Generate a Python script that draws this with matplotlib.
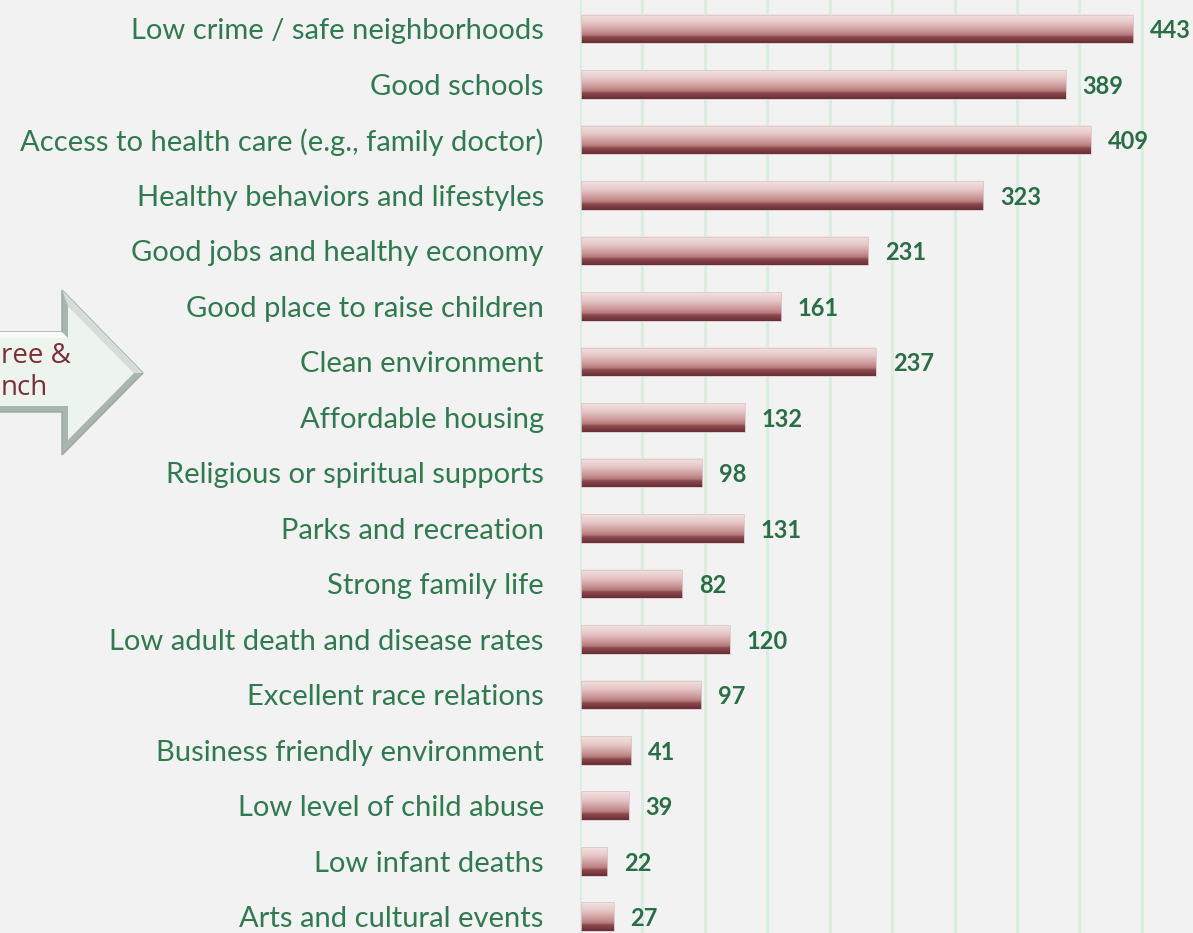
import numpy as np
import matplotlib
matplotlib.use("Agg")
import matplotlib.pyplot as plt
from matplotlib.colors import LinearSegmentedColormap
from matplotlib.patches import Polygon

categories = [
    "Low crime / safe neighborhoods",
    "Good schools",
    "Access to health care (e.g., family doctor)",
    "Healthy behaviors and lifestyles",
    "Good jobs and healthy economy",
    "Good place to raise children",
    "Clean environment",
    "Affordable housing",
    "Religious or spiritual supports",
    "Parks and recreation",
    "Strong family life",
    "Low adult death and disease rates",
    "Excellent race relations",
    "Business friendly environment",
    "Low level of child abuse",
    "Low infant deaths",
    "Arts and cultural events",
]
values = [443, 389, 409, 323, 231, 161, 237, 132, 98, 131, 82, 120, 97, 41, 39, 22, 27]
arrow_text = ["ree &", "nch"]

W, H = 1193, 933
BG = "#f2f2f2"
LABEL_C = "#2f7a4e"
NUM_C = "#2a6e45"

fig = plt.figure(figsize=(W / 100, H / 100), dpi=100, facecolor=BG)
ax = fig.add_axes([580 / W, 0, 1 - 580 / W, 1])
ax.set_facecolor(BG)

n = len(categories)
ypos = np.arange(n)
ax.set_xlim(0, 491)
ax.set_ylim(16.29, -0.523)

for gx in np.arange(0, 500, 50):
    ax.axvline(gx, color="#d8eedf", lw=2.2, zorder=0)

cmap = LinearSegmentedColormap.from_list(
    "bar",
    [(0.0, "#f3e3e3"), (0.3, "#e6c6c6"), (0.6, "#c99393"), (0.72, "#b57a7b"),
     (0.8, "#8a4a4f"), (0.9, "#7a3a40"), (1.0, "#6a2f35")])
grad = np.linspace(0, 1, 64).reshape(-1, 1)
bh = 0.52
for y, v in zip(ypos, values):
    ax.imshow(grad, cmap=cmap, aspect="auto", interpolation="bilinear",
              extent=[0.8, v, y + bh / 2, y - bh / 2], zorder=2)
    ax.add_patch(plt.Rectangle((0.8, y - bh / 2), v - 0.8, bh, fill=False,
                               ec="#d9c9c9", lw=0.6, zorder=3))
    ax.text(v + 13.5, y + 0.03, str(v), ha="left", va="center", fontsize=17,
            fontweight="bold", color=NUM_C, family="Lato", zorder=4)

ax.set_xlim(0, 491)
ax.set_ylim(16.29, -0.523)
ax.set_xticks([])
ax.set_yticks([])
for s in ax.spines.values():
    s.set_visible(False)

for y, c in zip(ypos, categories):
    ax.text(-29, y + 0.04, c, ha="right", va="center", fontsize=21, color=LABEL_C,
            family="Lato", transform=ax.transData, clip_on=False)

# arrow shape (figure pixel coords, y from top)
def fp(pts):
    return [(x / W, 1 - y / H) for x, y in pts]

outer = [(-5, 332), (62, 332), (62, 290), (143, 373), (62, 455), (62, 412), (-5, 412)]
inner = [(-5, 338), (68, 338), (68, 306), (134, 373), (68, 440), (68, 406), (-5, 406)]
fig.add_artist(Polygon(fp(outer), closed=True, fc="#a9b6ad", ec="#9aa79e", lw=1,
                       transform=fig.transFigure))
upper = [(62, 290), (143, 373), (134, 373), (68, 306)]
fig.add_artist(Polygon(fp(upper), closed=True, fc="#d4ddd6", ec="none",
                       transform=fig.transFigure))
topbody = [(-5, 332), (62, 332), (68, 338), (-5, 338)]
fig.add_artist(Polygon(fp(topbody), closed=True, fc="#f7faf7", ec="none",
                       transform=fig.transFigure))
fig.add_artist(Polygon(fp(inner), closed=True, fc="#edf3ed", ec="none",
                       transform=fig.transFigure))

fig.text(1 / W, 1 - 356 / H, arrow_text[0], ha="left", va="center", fontsize=20,
         color="#7a2e38", family="Open Sans")
fig.text(1 / W, 1 - 388 / H, arrow_text[1], ha="left", va="center", fontsize=20,
         color="#7a2e38", family="Open Sans")

fig.savefig("out.png", dpi=100, facecolor=BG)
